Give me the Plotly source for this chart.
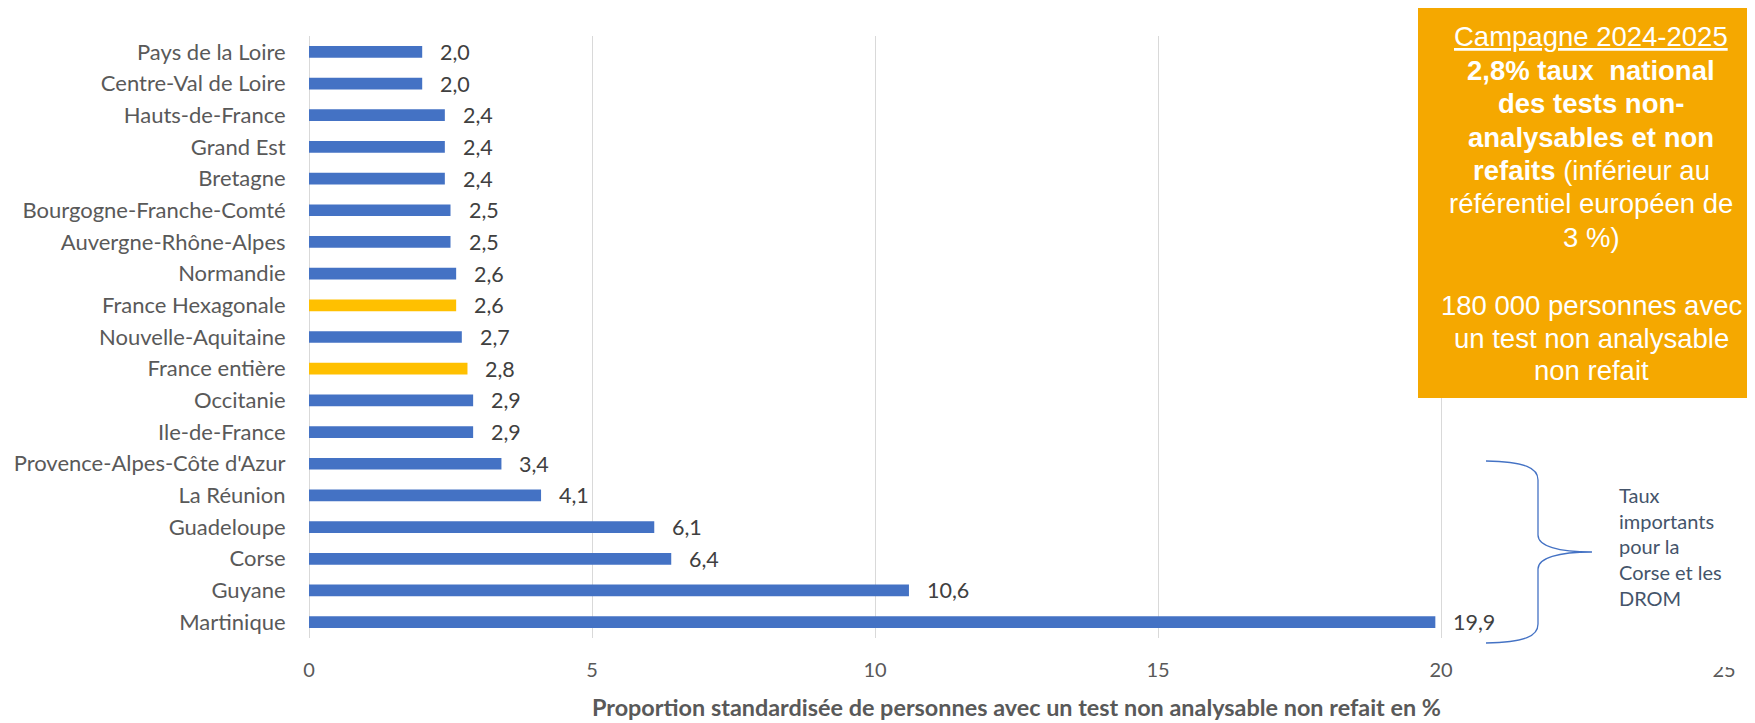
import plotly.graph_objects as go

regions = ["Pays de la Loire", "Centre-Val de Loire", "Hauts-de-France", "Grand Est",
           "Bretagne", "Bourgogne-Franche-Comté", "Auvergne-Rhône-Alpes", "Normandie",
           "France Hexagonale", "Nouvelle-Aquitaine", "France entière", "Occitanie",
           "Ile-de-France", "Provence-Alpes-Côte d'Azur", "La Réunion", "Guadeloupe",
           "Corse", "Guyane", "Martinique"]
values = [2.0, 2.0, 2.4, 2.4, 2.4, 2.5, 2.5, 2.6, 2.6, 2.7, 2.8, 2.9, 2.9, 3.4, 4.1,
          6.1, 6.4, 10.6, 19.9]
highlight = ["France Hexagonale", "France entière"]
x_ticks = [0, 5, 10, 15, 20, 25]
x_title = "Proportion standardisée de personnes avec un test non analysable non refait en %"

OFF = 8  # page body margin
W, H = 1755, 723
L, R, T, B = 309 - OFF, W - (1724 - OFF), 36 - OFF, H - (638 - OFF)
PW, PH = W - L - R, H - T - B


def px(x):
    return (x - OFF - L) / PW


def py(y):
    return 1 - (y - OFF - T) / PH


BLUE = "#4472C4"
YELLOW = "#FFC000"
colors = [YELLOW if r in highlight else BLUE for r in regions]
LABEL_FONT = "Lato, Calibri, Carlito, sans-serif"

fig = go.Figure()
fig.add_trace(go.Bar(
    x=values, y=regions, orientation="h",
    marker=dict(color=colors, line=dict(width=0)),
    hoverinfo="skip",
))

annotations = []
for r, v in zip(regions, values):
    annotations.append(dict(
        x=v, y=r, xref="x", yref="y", text=f"{v:.1f}".replace(".", ","),
        showarrow=False, xanchor="left", yanchor="middle", xshift=16,
        font=dict(family=LABEL_FONT, size=21.5, color="#404040"),
    ))

# Orange box text
box_lines = [
    ("<span style='text-decoration:underline'>Campagne 2024-2025</span>", 36),
    ("<b>2,8% taux  national</b>", 70),
    ("<b>des tests non-</b>", 103),
    ("<b>analysables et non</b>", 137),
    ("<b>refaits</b> (inférieur au", 170),
    ("référentiel européen de", 203),
    ("3 %)", 237),
    ("180 000 personnes avec", 305),
    ("un test non analysable", 338),
    ("non refait", 370),
]
for txt, yy in box_lines:
    annotations.append(dict(
        x=px(1591), y=py(yy), xref="paper", yref="paper", text=txt,
        showarrow=False, xanchor="center", yanchor="middle",
        font=dict(family="Liberation Sans, Arial, sans-serif", size=27.5, color="white"),
    ))

# Brace note
note_lines = ["Taux", "importants", "pour la", "Corse et les", "DROM"]
for i, t in enumerate(note_lines):
    annotations.append(dict(
        x=px(1617), y=py(495 + i * 25.7), xref="paper", yref="paper", text=t,
        showarrow=False, xanchor="left", yanchor="middle",
        font=dict(family=LABEL_FONT, size=20, color="#44546A"),
    ))

pts = [("M", 1486, 461), ("C", 1526, 462), (None, 1538, 468), (None, 1538, 480),
       ("L", 1538, 535), ("C", 1538, 546), (None, 1558, 552), (None, 1592, 552),
       ("C", 1558, 552), (None, 1538, 558), (None, 1538, 569),
       ("L", 1538, 624), ("C", 1538, 636), (None, 1526, 642), (None, 1486, 643)]
path = ""
for cmd, x, y in pts:
    path += (cmd + " " if cmd else " ") + f"{px(x):.5f},{py(y):.5f}"

shapes = [
    dict(type="rect", xref="paper", yref="paper", x0=px(1600), x1=px(1770),
         y0=py(463), y1=py(667), fillcolor="white", line=dict(width=0), layer="above"),
    dict(type="rect", xref="paper", yref="paper", x0=px(1418), x1=px(1770),
         y0=py(7), y1=py(398), fillcolor="#F5A800", line=dict(width=0), layer="above"),
    dict(type="path", xref="paper", yref="paper", path=path,
         line=dict(color=BLUE, width=1.3), layer="above"),
]

fig.update_layout(
    width=W, height=H,
    margin=dict(l=L, r=R, t=T, b=B),
    plot_bgcolor="white", paper_bgcolor="white",
    bargap=0.63,
    showlegend=False,
    separators=", ",
    annotations=annotations,
    shapes=shapes,
    xaxis=dict(
        range=[0, 25], tickvals=x_ticks, ticktext=[str(t) for t in x_ticks],
        showgrid=True, gridcolor="#D9D9D9", gridwidth=1.3,
        zeroline=True, zerolinecolor="#D9D9D9", zerolinewidth=1.3,
        showline=False, automargin=False,
        ticks="outside", ticklen=14, tickcolor="rgba(0,0,0,0)",
        tickfont=dict(family=LABEL_FONT, size=20, color="#595959"),
        title=dict(text=f"<b>{x_title}</b>", standoff=19,
                   font=dict(family=LABEL_FONT, size=23.4, color="#595959")),
        fixedrange=True,
    ),
    yaxis=dict(
        categoryorder="array", categoryarray=regions, autorange="reversed",
        showgrid=False, showline=False, automargin=False,
        ticks="outside", ticklen=18, tickcolor="rgba(0,0,0,0)",
        tickfont=dict(family=LABEL_FONT, size=22, color="#595959"),
        fixedrange=True,
    ),
)

fig.write_html("out.html")
